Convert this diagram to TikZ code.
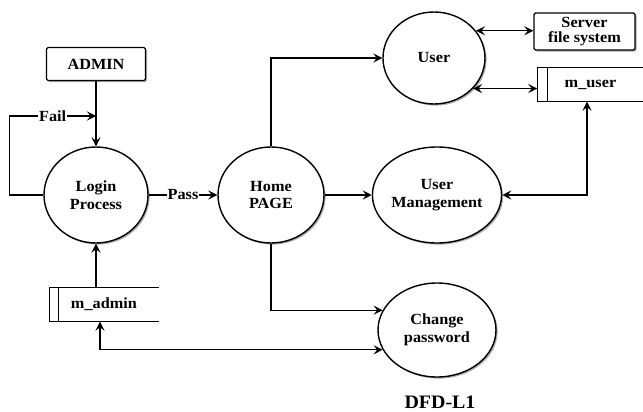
\documentclass[tikz,border=0pt]{standalone}
\usepackage{fontspec}
\setmainfont{Liberation Serif}[FakeStretch=1.05]
\usetikzlibrary{shapes.geometric,shadows,arrows.meta,calc}
\begin{document}
\begin{tikzpicture}[x=1pt,y=-1pt,
  line width=1.4pt,
  every node/.style={font=\fontsize{15.5}{17.5}\selectfont\bfseries, align=center},
  tip/.tip={Stealth[length=9pt,width=9pt,inset=3.5pt]},
  arr/.style={-tip},
  barr/.style={tip-tip},
  shad/.style={drop shadow={shadow xshift=1.6pt, shadow yshift=-1.6pt, fill=black!65}},
  proc/.style={ellipse, draw, fill=white, shad, inner sep=0pt},
  ext/.style={rectangle, draw, rounded corners=1.5pt, fill=white, shad, inner sep=0pt},
  store/.style={rectangle, inner sep=0pt, minimum height=33pt},
  lbl/.style={fill=white, inner sep=1pt}
]
\useasboundingbox (0,0) rectangle (643,412);

% external entities
\node[ext, minimum width=99pt, minimum height=33pt] (admin) at (96,64) {ADMIN};
\node[ext, minimum width=101pt, minimum height=37pt, font=\fontsize{15.5}{15.5}\selectfont\bfseries] (server) at (584.5,31.5) {Server\\file system};

% processes
\node[proc, minimum width=104pt, minimum height=96pt] (login) at (96,195) {Login\\Process};
\node[proc, minimum width=106pt, minimum height=96pt] (home) at (271,195) {Home\\PAGE};
\node[proc, minimum width=102pt, minimum height=92pt] (user) at (434,58) {User};
\node[proc, minimum width=118pt, minimum height=96pt] (um) at (437,195) {User\\Management};
\node[proc, minimum width=118pt, minimum height=94pt] (cp) at (437,330) {Change\\password};

% data stores
\node[store, minimum width=105pt] (muser) at (590.5,84.5) {m\_user};
\draw (muser.north east) -- (muser.north west) -- (muser.south west) -- (muser.south east);
\draw ([xshift=10pt]muser.north west) -- ([xshift=10pt]muser.south west);

\node[store, minimum width=108pt] (madmin) at (104,304.5) {m\_admin};
\draw (madmin.north east) -- (madmin.north west) -- (madmin.south west) -- (madmin.south east);
\draw ([xshift=9pt]madmin.north west) -- ([xshift=9pt]madmin.south west);

% title
\node[font=\fontsize{19}{22}\selectfont\bfseries] (title) at (440,402) {DFD-L1};

% connectors
\coordinate (failend) at (96,116);
\draw[arr] (admin.south) -- (login.north);
\draw[arr] (login.west) -- ++(-34,0) |- node[pos=0.75, lbl]{Fail} (failend);
\draw[arr] (login) -- node[lbl]{Pass} (home);
\draw[arr] (home.north) |- (user.west);
\draw[arr] (home) -- (um);
\draw[arr] (home.south) |- (cp.160);
\draw[barr] (user.33) -- (user.33 -| server.west);
\draw[barr] (user.-38) -- (user.-38 -| muser.west);
\draw[barr] ([xshift=-3.5pt]muser.south) |- (um.east);
\draw[arr] (madmin.north -| login.center) -- (login.south);
\draw[barr] ([xshift=-4pt]madmin.south) |- (cp.200);
\end{tikzpicture}
\end{document}
